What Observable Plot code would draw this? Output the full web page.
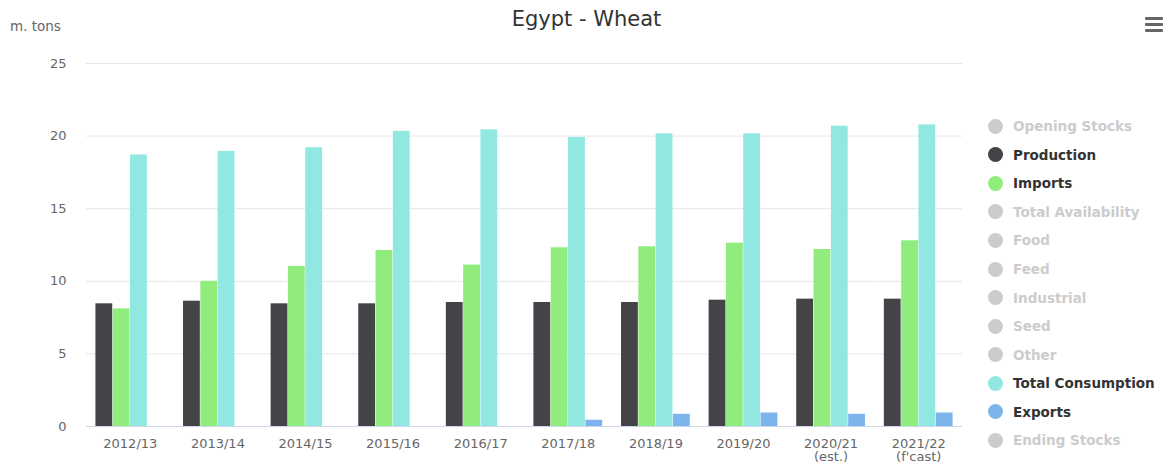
<!DOCTYPE html>
<html><head><meta charset="utf-8">
<script src="https://cdn.jsdelivr.net/npm/d3@7"></script>
<script src="https://cdn.jsdelivr.net/npm/@observablehq/plot@0.6"></script>
<style>
body{margin:0;background:#fff;font-family:"DejaVu Sans",sans-serif;}
#wrap{position:relative;width:1167px;height:473px;overflow:hidden;}
#title{position:absolute;top:7px;left:3px;width:1167px;text-align:center;font-size:21px;color:#333;}
#unit{position:absolute;left:10px;top:18px;font-size:13.5px;color:#666;}
#chart{position:absolute;left:0;top:0;}
#legend{position:absolute;left:988px;top:112px;}
.li{display:flex;align-items:center;height:28.55px;font-size:13.5px;font-weight:bold;white-space:nowrap;}
.dot{width:15px;height:15px;border-radius:50%;margin-right:10px;flex:none;}
#menu{position:absolute;left:1145px;top:17px;width:18px;}
#menu div{height:3px;background:#666;margin-bottom:3px;border-radius:1px;}
</style></head>
<body>
<div id="wrap">
  <div id="chart"></div>
  <div id="title"></div>
  <div id="unit"></div>
  <div id="legend"></div>
  <div id="menu"><div></div><div></div><div></div></div>
</div>
<script>
const titleText = "Egypt - Wheat";
const unitText = "m. tons";
const years = ["2012/13","2013/14","2014/15","2015/16","2016/17","2017/18","2018/19","2019/20","2020/21\n(est.)","2021/22\n(f'cast)"];
const production = [8.45,8.63,8.45,8.45,8.54,8.54,8.54,8.70,8.77,8.77];
const imports = [8.10,10.00,11.02,12.12,11.12,12.31,12.38,12.63,12.19,12.79];
const consumption = [18.70,18.95,19.20,20.33,20.43,19.90,20.15,20.15,20.68,20.77];
const exportsVals = [0,0,0,0,0,0.43,0.84,0.93,0.84,0.93];
const seriesNames = ["Production","Imports","Total Consumption","Exports"];
const seriesColors = ["#434348","#90ed7d","#91e8e1","#7cb5ec"];
const legendItems = ["Opening Stocks","Production","Imports","Total Availability","Food","Feed","Industrial","Seed","Other","Total Consumption","Exports","Ending Stocks"];
const yTicks = [0,5,10,15,20,25];

const seriesValues = [production, imports, consumption, exportsVals];
const rows = [];
years.forEach((yr, i) => {
  seriesNames.forEach((s, j) => rows.push({year: yr, series: s, value: seriesValues[j][i]}));
});

document.getElementById("title").textContent = titleText;
document.getElementById("unit").textContent = unitText;

const chart = Plot.plot({
  width: 970,
  height: 473,
  marginLeft: 86,
  marginRight: 8,
  marginTop: 63,
  marginBottom: 47,
  style: {fontFamily: "DejaVu Sans", fontSize: "13px", color: "#666", background: "transparent"},
  fx: {domain: years, padding: 0, round: false, label: null, tickSize: 0, tickPadding: 12},
  x: {domain: seriesNames, axis: null, paddingInner: 0, paddingOuter: 0.53, round: false},
  y: {domain: [0, 25], ticks: yTicks, label: null, tickSize: 0, tickPadding: 20},
  color: {domain: seriesNames, range: seriesColors},
  marks: [
    Plot.ruleY(yTicks.filter(d => d > 0), {stroke: "#e6e6e6", strokeWidth: 1}),
    Plot.barY(rows, {fx: "year", x: "series", y: "value", fill: "series", insetLeft: 0.25, insetRight: 0.25}),
    Plot.ruleY([0], {stroke: "#ccd6eb", strokeWidth: 1})
  ]
});
document.getElementById("chart").appendChild(chart);

const legend = document.getElementById("legend");
legendItems.forEach(name => {
  const idx = seriesNames.indexOf(name);
  const active = idx >= 0;
  const row = document.createElement("div");
  row.className = "li";
  const dot = document.createElement("div");
  dot.className = "dot";
  dot.style.background = active ? seriesColors[idx] : "#cccccc";
  const label = document.createElement("span");
  label.textContent = name;
  label.style.color = active ? "#333333" : "#cccccc";
  row.appendChild(dot);
  row.appendChild(label);
  legend.appendChild(row);
});
</script>
</body></html>
